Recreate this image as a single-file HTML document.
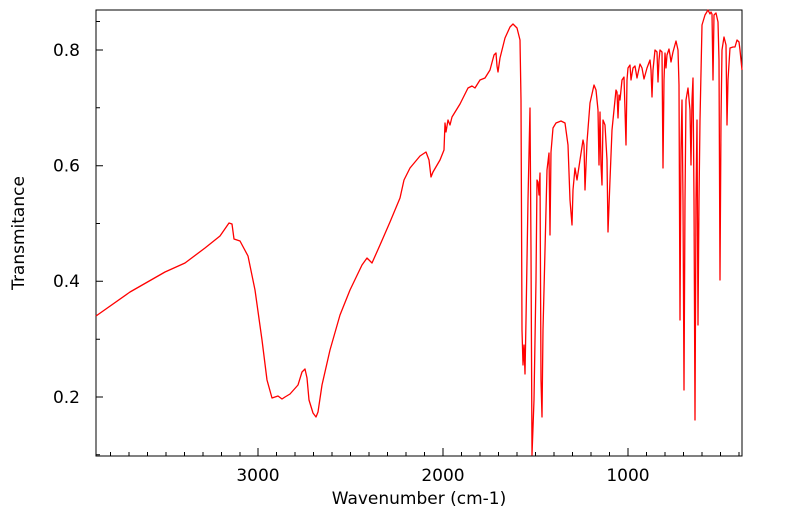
<!DOCTYPE html>
<html><head><style>body{margin:0;background:#fff}svg{display:block}text{font-family:"DejaVu Sans","Liberation Sans",sans-serif;fill:#000}</style></head><body>
<svg width="799" height="516" viewBox="0 0 799 516">
<rect x="96" y="10" width="646" height="446" fill="none" stroke="#000" stroke-width="1"/>
<g stroke="#000" stroke-width="1">
<path d="M96 50h7M96 165.7h7M96 281.3h7M96 397h7M96 107.8h4M96 223.5h4M96 339.2h4M96 454.8h4M96 21.5h4"/>
<path d="M258 456v-8M443 456v-8M628 456v-8"/>
<path d="M110.5 456v-4M129 456v-4M147.5 456v-4M166 456v-4M184.5 456v-4M203 456v-4M221.5 456v-4M240 456v-4M276.5 456v-4M295 456v-4M313.5 456v-4M332 456v-4M350.5 456v-4M369 456v-4M387.5 456v-4M406 456v-4M424.5 456v-4M461.5 456v-4M480 456v-4M498.5 456v-4M517 456v-4M535.5 456v-4M554 456v-4M572.5 456v-4M591 456v-4M609.5 456v-4M646.5 456v-4M665 456v-4M683.5 456v-4M702 456v-4M720.5 456v-4M739 456v-4"/>
</g>
<g font-size="17" text-anchor="end">
<text x="80" y="56">0.8</text><text x="80" y="171.5">0.6</text><text x="80" y="287">0.4</text><text x="80" y="403">0.2</text>
</g>
<g font-size="17" text-anchor="middle">
<text x="258" y="481">3000</text><text x="443" y="481">2000</text><text x="628" y="481">1000</text>
<text x="419" y="504">Wavenumber (cm-1)</text>
<text transform="translate(24,233) rotate(-90)">Transmitance</text>
</g>
<polyline fill="none" stroke="#f00" stroke-width="1.3" stroke-linejoin="round" points="96,316 130,292 165,272 185,263 205,248 220,236 229,223 232,224 234,239 240,241 248,256 255,290 262,340 267,380 272,398 278,396 282,399 285,397 290,394 298,385 302,372 305,369 307,378 309,400 313,413 316,417 318,412 322,385 330,350 340,315 350,290 362,265 367,258 372,263 380,245 390,222 400,198 404,180 410,168 420,156 426,152 429,160 431,177 433,172 440,160 444,150 445,123 446,132 448,120 450,125 452,117 460,104 468,88 472,86 475,88 480,80 485,78 490,70 494,55 496,53 497,66 498,72 500,58 505,38 510,27 513,24 517,28 520,40 521,100 522,330 523,365 524,345 525,374 526,320 528,200 530,108 531,250 532,455 534,400 536,280 537,180 538,182 539,195 540,173 541,380 542,417 543,330 545,250 547,170 549,153 550,235 551,152 553,128 556,123 561,121 565,123 568,145 570,200 572,225 573,190 575,168 577,180 583,140 584,145 585,190 587,142 590,103 594,85 596,90 598,110 599,165 600,112 601,165 602,185 603,120 605,125 607,160 608,232 610,180 612,130 614,110 616,90 617,92 618,118 619,95 620,100 622,80 624,77 625,110 626,145 627,80 628,68 630,65 631,80 633,68 635,66 637,78 640,64 642,68 644,79 647,68 650,60 651,70 652,97 653,70 655,50 657,52 658,82 659,60 660,50 662,52 663,168 664,80 665,53 666,68 667,55 669,49 670,55 671,62 673,52 676,41 678,50 679,85 680,320 681,150 682,100 683,200 684,390 685,200 686,100 688,88 690,110 691,165 692,100 693,78 694,200 695,420 696,200 697,120 698,325 699,200 700,120 702,25 705,15 708,10 710,14 711,12 712,14 713,80 714,15 716,13 718,22 719,60 720,280 721,120 722,50 724,37 726,45 727,125 728,80 730,48 733,47 735,47 737,40 739,42 740,50 742,70"/>
</svg>
</body></html>
